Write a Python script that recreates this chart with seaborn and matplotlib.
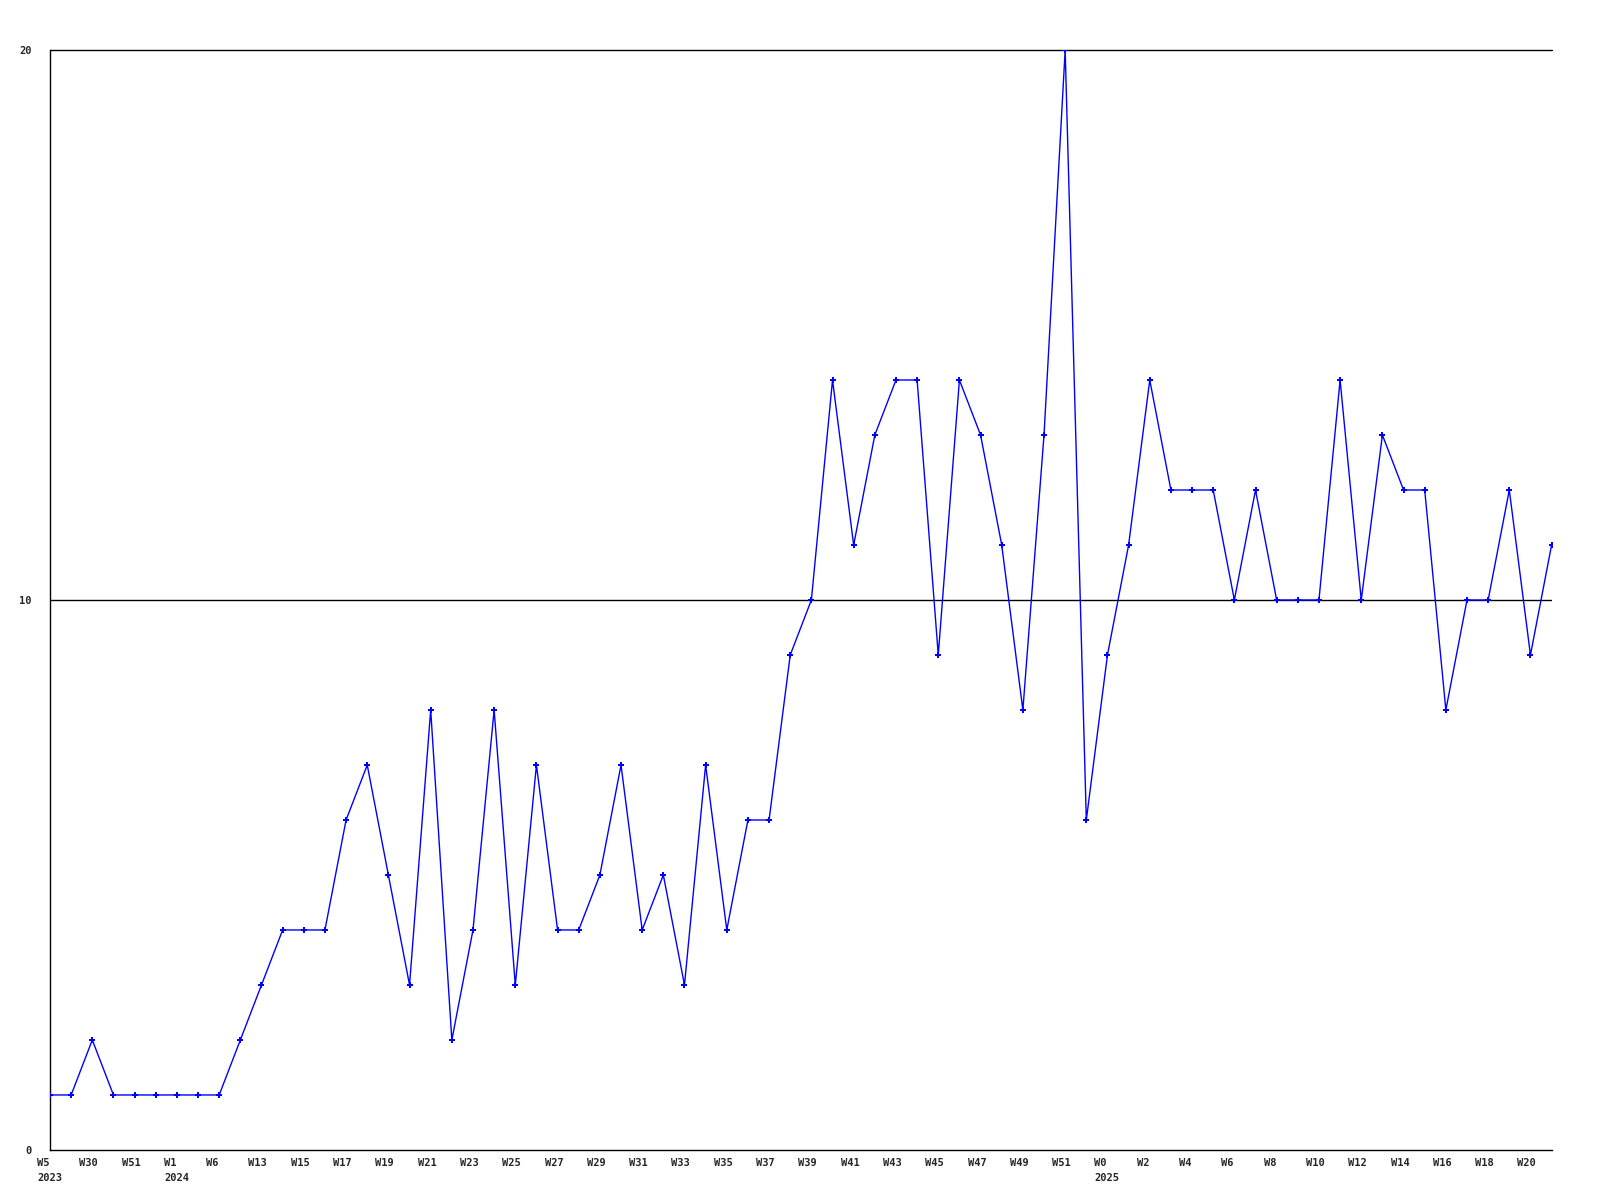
import numpy as np
import pandas as pd
import seaborn as sns
import matplotlib.pyplot as plt
from matplotlib.transforms import ScaledTranslation

# weekly counts, one per point
counts = [1, 1, 2, 1, 1, 1, 1, 1, 1, 2,
          3, 4, 4, 4, 6, 7, 5, 3, 8, 2,
          4, 8, 3, 7, 4, 4, 5, 7, 4, 5,
          3, 7, 4, 6, 6, 9, 10, 14, 11, 13,
          14, 14, 9, 14, 13, 11, 8, 13, 20, 6,
          9, 11, 14, 12, 12, 12, 10, 12, 10, 10,
          10, 14, 10, 13, 12, 12, 8, 10, 10, 12,
          9, 11]

# every second point carries a label
tick_labels = ["W5\n2023", "W30", "W51", "W1\n2024", "W6", "W13", "W15", "W17",
               "W19", "W21", "W23", "W25", "W27", "W29", "W31", "W33", "W35",
               "W37", "W39", "W41", "W43", "W45", "W47", "W49", "W51",
               "W0\n2025", "W2", "W4", "W6", "W8", "W10", "W12", "W14", "W16",
               "W18", "W20"]

y_ticks = [0, 10, 20]

df = pd.DataFrame({"idx": np.arange(len(counts)), "count": counts})

sns.set_style("white")
plt.rcParams['font.family'] = ['DejaVu Sans Mono']
plt.rcParams['font.weight'] = 'bold'

fig = plt.figure(figsize=(16, 12), dpi=100)
ax = fig.add_axes([0.03125, 0.0417, 0.9385, 0.9166])

ax.axhline(10, color='black', linewidth=1, zorder=1)
ax.axhline(20, color='black', linewidth=1, zorder=1, clip_on=False)

sns.lineplot(data=df, x="idx", y="count", ax=ax, color='#0000ff', linewidth=1,
             marker='P', markersize=4.5, markeredgewidth=0, zorder=3)

ax.set_xlim(0, len(counts) - 1)
ax.set_ylim(0, 20)

# x labels drawn as text, left edge a little before each point
ax.set_xticks([])
label_pos = np.arange(0, len(counts), 2)[:len(tick_labels)]
shift = ScaledTranslation(-13 / 100, -8 / 100, fig.dpi_scale_trans)
for pos, lbl in zip(label_pos, tick_labels):
    ax.text(pos, 0, lbl, transform=ax.get_xaxis_transform() + shift,
            ha='left', va='top', fontsize=7.5, fontweight='bold',
            linespacing=1.6, clip_on=False)

ax.set_yticks(y_ticks)
ax.set_yticklabels([str(v) for v in y_ticks], fontsize=7.5, fontweight='bold')
ax.tick_params(axis='y', length=0, pad=13)

ax.set_xlabel("")
ax.set_ylabel("")
for side in ['top', 'right']:
    ax.spines[side].set_visible(False)
for side in ['left', 'bottom']:
    ax.spines[side].set_color('black')
    ax.spines[side].set_linewidth(1)

fig.savefig("out.png", dpi=100)
